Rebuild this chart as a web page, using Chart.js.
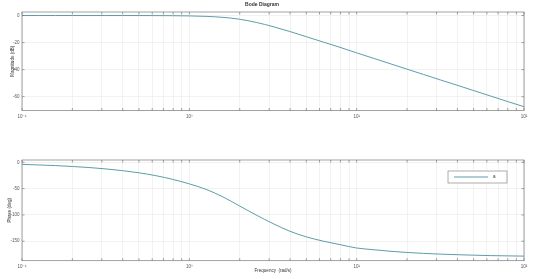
<!DOCTYPE html>
<html>
<head>
<meta charset="utf-8">
<script src="https://cdn.jsdelivr.net/npm/chart.js@4.4.1/dist/chart.umd.min.js"></script>
<style>
html,body{margin:0;padding:0;background:#fff;}
#wrap{position:relative;width:540px;height:279px;}
canvas{position:absolute;left:0;}
#mag{top:0;}
#phase{top:135px;}
</style>
</head>
<body>
<div id="wrap">
<canvas id="mag" width="540" height="135"></canvas>
<canvas id="phase" width="540" height="144"></canvas>
</div>
<script>
// frequency (rad/s), 10 points per decade
const freq=[0.1,0.1259,0.1585,0.1995,0.2512,0.3162,0.3981,0.5012,0.631,0.7943,
  1,1.259,1.585,1.995,2.512,3.162,3.981,5.012,6.31,7.943,
  10,12.59,15.85,19.95,25.12,31.62,39.81,50.12,63.1,79.43,100];
const magDb=[0,0,0,0,-0.01,-0.01,-0.02,-0.03,-0.06,-0.13,
  -0.29,-0.63,-1.36,-2.74,-5.1,-8.2,-11.8,-15.7,-19.6,-23.5,
  -27.6,-31.6,-35.6,-39.6,-43.6,-47.6,-51.5,-55.5,-59.5,-63.5,-67.4];
const phaseDeg=[-3.9,-5.0,-6.2,-7.9,-9.9,-12.5,-15.8,-20.0,-25.4,-32.4,
  -41,-51.4,-65.6,-82.9,-100.3,-116.4,-130.9,-141.8,-149.8,-156.4,
  -162.9,-166.1,-169.0,-171.3,-173.1,-174.5,-175.6,-176.5,-177.3,-177.8,-178.3];
const decades=[0.1,1,10,100];
const decadeLabels=['10⁻¹','10⁰','10¹','10²'];
const magTicks=[-60,-40,-20,0];
const phaseTicks=[-150,-100,-50,0];
const seriesName='a';

const lineColor='#4b929f';
const gridColor='#ececec';
const fontFam='"Liberation Sans", "DejaVu Sans", Arial, sans-serif';
Chart.defaults.font.family=fontFam;
Chart.defaults.color='#555';

// log minor ticks 2..9 in each decade
const xTickVals=[];
decades.forEach((d,i)=>{xTickVals.push(d);if(i<decades.length-1)for(let m=2;m<10;m++)xTickVals.push(+(m*d).toFixed(4));});

const frame={id:'frame',afterDatasetsDraw(c){
  const {ctx,chartArea:a,scales:{x,y}}=c;
  ctx.save();ctx.strokeStyle='#7a7a7a';ctx.lineWidth=0.7;
  ctx.strokeRect(a.left,a.top,a.right-a.left,a.bottom-a.top);
  ctx.beginPath();
  x.ticks.forEach(t=>{const p=x.getPixelForValue(t.value);ctx.moveTo(p,a.bottom);ctx.lineTo(p,a.bottom-2.5);ctx.moveTo(p,a.top);ctx.lineTo(p,a.top+2.5);});
  y.ticks.forEach(t=>{const p=y.getPixelForValue(t.value);ctx.moveTo(a.left,p);ctx.lineTo(a.left+2.5,p);ctx.moveTo(a.right,p);ctx.lineTo(a.right-2.5,p);});
  ctx.stroke();ctx.restore();
}};

const legendBox={id:'legendBox',afterDraw(c){
  const {ctx,chartArea:a}=c;const ds=c.data.datasets[0];
  const w=59,h=12,x0=a.right-17-w,y0=a.top+11;
  ctx.save();
  ctx.fillStyle='#fff';ctx.fillRect(x0,y0,w,h);
  ctx.strokeStyle='#8a8a8a';ctx.lineWidth=0.7;ctx.strokeRect(x0,y0,w,h);
  ctx.strokeStyle=ds.borderColor;ctx.lineWidth=0.9;
  ctx.beginPath();ctx.moveTo(x0+6,y0+h/2);ctx.lineTo(x0+40,y0+h/2);ctx.stroke();
  ctx.fillStyle='#333';ctx.font='4.5px '+fontFam;ctx.textBaseline='middle';
  ctx.fillText(ds.label,x0+45,y0+h/2);
  ctx.restore();
}};

function xAxis(h,pad,title){
  return {type:'logarithmic',min:0.1,max:100,
    afterBuildTicks:s=>{s.ticks=xTickVals.map(v=>({value:v}));},
    afterFit:s=>{s.height=h;},
    ticks:{autoSkip:false,maxRotation:0,padding:pad,font:{size:4.5},
      callback:v=>{const i=decades.indexOf(v);return i<0?'':decadeLabels[i];}},
    grid:{color:gridColor,lineWidth:0.7,drawTicks:false},
    border:{display:false},
    title:title};
}
function yAxis(min,max,vals,titleText,tpad){
  return {min:min,max:max,
    afterBuildTicks:s=>{s.ticks=vals.map(v=>({value:v}));},
    afterFit:s=>{s.width=22;},
    ticks:{padding:2.5,font:{size:4.5},callback:v=>String(v)},
    grid:{color:gridColor,lineWidth:0.7,drawTicks:false},
    border:{display:false},
    title:{display:true,text:titleText,font:{size:4.5},color:'#333',padding:{top:tpad,bottom:0}}};
}
function ds(vals){
  return [{label:seriesName,data:freq.map((f,i)=>({x:f,y:vals[i]})),borderColor:lineColor,borderWidth:0.9,
    pointRadius:0,fill:false,cubicInterpolationMode:'monotone'}];
}

new Chart(document.getElementById('mag'),{
  type:'line',
  data:{datasets:ds(magDb)},
  options:{responsive:false,animation:false,devicePixelRatio:1,
    layout:{padding:{left:0,right:16,top:0,bottom:0}},
    plugins:{legend:{display:false},tooltip:{enabled:false},
      title:{display:true,text:'Bode Diagram',color:'#333',font:{size:5,weight:'bold'},padding:{top:1.5,bottom:4.5}}},
    scales:{x:xAxis(24.5,4,{display:false}),y:yAxis(-70.2,2.6,magTicks,'Magnitude (dB)',9.6)}},
  plugins:[frame]
});

new Chart(document.getElementById('phase'),{
  type:'line',
  data:{datasets:ds(phaseDeg)},
  options:{responsive:false,animation:false,devicePixelRatio:1,
    layout:{padding:{left:0,right:16,top:25,bottom:0}},
    plugins:{legend:{display:false},tooltip:{enabled:false}},
    scales:{x:xAxis(18.3,3,{display:true,text:'Frequency  (rad/s)',font:{size:4.5},color:'#333',padding:{top:0,bottom:5.6}}),
      y:yAxis(-187,4.4,phaseTicks,'Phase (deg)',6.6)}},
  plugins:[frame,legendBox]
});
</script>
</body>
</html>
